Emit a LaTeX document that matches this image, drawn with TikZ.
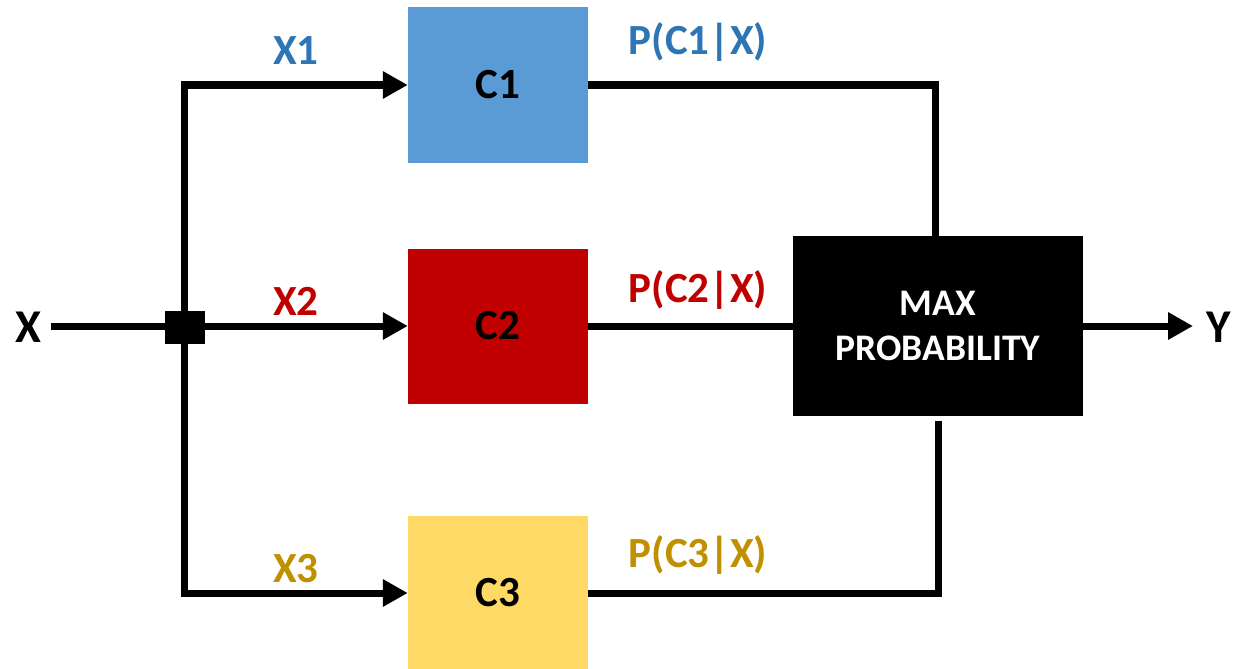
\documentclass[tikz,border=0pt]{standalone}
\usepackage{fontspec}
\setmainfont{Carlito}
\usetikzlibrary{arrows.meta}
\definecolor{boxblue}{HTML}{5B9BD5}
\definecolor{txtblue}{HTML}{2E75B6}
\definecolor{boxred}{HTML}{C00000}
\definecolor{boxgold}{HTML}{FFD966}
\definecolor{txtgold}{HTML}{BF9000}
\begin{document}
\begin{tikzpicture}[x=1pt,y=-1pt,
  wire/.style={line width=7pt,line join=miter},
  arr/.style={wire,-{Triangle[length=25pt,width=26pt]}},
  clf/.style={minimum width=180pt,minimum height=155pt,inner sep=0pt,
    font=\fontsize{43}{50}\selectfont\bfseries},
  inlbl/.style={anchor=base,inner sep=0pt,font=\fontsize{43}{50}\selectfont\bfseries},
  io/.style={anchor=base,inner sep=0pt,font=\fontsize{47}{54}\selectfont\bfseries}]
\useasboundingbox (0,0) rectangle (1237,669);
% boxes
\node[clf,fill=boxblue] (c1) at (498,85) {C1};
\node[clf,fill=boxred] (c2) at (498,326) {C2};
\node[clf,fill=boxgold] (c3) at (498,593) {C3};
\node[fill=black,text=white,minimum width=290pt,minimum height=180pt,inner sep=0pt,
  align=center,font=\fontsize{37.5}{45}\selectfont\bfseries] (mp) at (938,326) {MAX\\PROBABILITY};
% input/output
\node[io] (x) at (28.5,342) {X};
\node[io] (y) at (1219,342) {Y};
\coordinate (xs) at (51,326);
\coordinate (ye) at (1193,326);
\node[fill=black,minimum width=40pt,minimum height=33pt,inner sep=0pt] (j) at (185,327) {};
\coordinate (jt) at (184,85);
\coordinate (jb) at (184,593);
\coordinate (tr) at (935,85);
\coordinate (br) at (938,593);
\coordinate (bt) at (938,421);
% connectors
\draw[arr] (xs) -- (c2.west);
\draw[arr] (jt |- j.center) -- (jt) -- (c1.west);
\draw[arr] (jb |- j.center) -- (jb) -- (c3.west);
\draw[wire] (c1.east) -- (tr) -- (tr |- mp.north);
\draw[wire] (c2.east) -- (mp.west);
\draw[wire] (c3.east) -- (br) -- (bt);
\draw[arr] (mp.east) -- (ye);
% labels
\node[inlbl,text=txtblue] (l1) at (296,65) {X1};
\node[inlbl,text=boxred] (l2) at (296,315) {X2};
\node[inlbl,text=txtgold] (l3) at (296,582) {X3};
\node[inlbl,text=txtblue] (p1) at (698,55) {P(C1|X)};
\node[inlbl,text=boxred] (p2) at (698,302) {P(C2|X)};
\node[inlbl,text=txtgold] (p3) at (698,567) {P(C3|X)};
\end{tikzpicture}
\end{document}
